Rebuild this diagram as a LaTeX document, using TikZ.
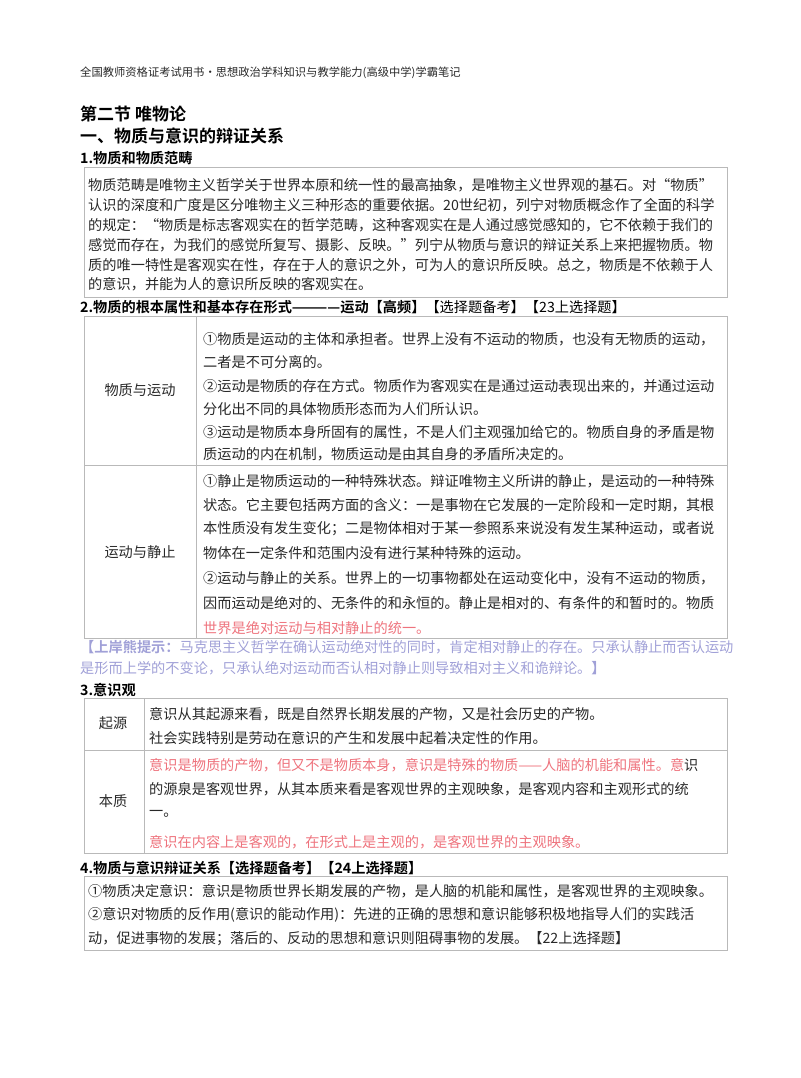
\documentclass[tikz,border=0pt]{standalone}
\usepackage{fontspec}
\setmainfont{Noto Sans CJK SC}
\newfontfamily\hei{Noto Sans CJK SC Bold}
\definecolor{bx}{RGB}{185,185,185}
\definecolor{rd}{RGB}{238,115,125}
\definecolor{tip}{RGB}{160,160,215}
\definecolor{tx}{RGB}{40,40,40}
\begin{document}
\begin{tikzpicture}[x=1pt,y=1pt,
  t/.style={anchor=west,inner sep=0pt,text=tx,font=\fontsize{14.2}{14.2}\selectfont},
  h/.style={anchor=west,inner sep=0pt,text=black,font=\hei\fontsize{14.2}{14.2}\selectfont},
  H/.style={anchor=west,inner sep=0pt,text=black,font=\hei\fontsize{17}{17}\selectfont},
  c/.style={anchor=center,inner sep=0pt,text=tx,font=\fontsize{14.2}{14.2}\selectfont},
  box/.style={draw=bx,line width=0.8pt}]
\useasboundingbox (0,0) rectangle (800,-1078);
\node[anchor=west,inner sep=0pt,text=tx,font=\fontsize{11.3}{11.3}\selectfont] (hd) at (80,-73) {全国教师资格证考试用书·思想政治学科知识与教学能力(高级中学)学霸笔记};
\node[H] (s1) at (80,-114) {第二节\ 唯物论};
\node[H] (s2) at (80,-136) {一、物质与意识的辩证关系};
\node[h] (h1) at (80,-158) {1.物质和物质范畴};
% box 1
\draw[box] (84,-167) rectangle (727,-297);
\node[t] (a1) at (88,-185) {物质范畴是唯物主义哲学关于世界本原和统一性的最高抽象，是唯物主义世界观的基石。对“物质”};
\node[t] (a2) at (88,-205) {认识的深度和广度是区分唯物主义三种形态的重要依据。20世纪初，列宁对物质概念作了全面的科学};
\node[t] (a3) at (88,-225) {的规定：“物质是标志客观实在的哲学范畴，这种客观实在是人通过感觉感知的，它不依赖于我们的};
\node[t] (a4) at (88,-245) {感觉而存在，为我们的感觉所复写、摄影、反映。”列宁从物质与意识的辩证关系上来把握物质。物};
\node[t] (a5) at (88,-265) {质的唯一特性是客观实在性，存在于人的意识之外，可为人的意识所反映。总之，物质是不依赖于人};
\node[t] (a6) at (88,-284) {的意识，并能为人的意识所反映的客观实在。};
% section 2
\node[h] (h2) at (80,-307) {2.物质的根本属性和基本存在形式————运动【高频】{\rmfamily 【选择题备考】【23上选择题】}};
\draw[box] (84,-316) rectangle (727,-638);
\draw[box] (196,-316) -- (196,-638);
\draw[box] (84,-465) -- (727,-465);
\node[c] (r1) at (140,-390) {物质与运动};
\node[c] (r2) at (140,-552) {运动与静止};
\node[t] (b1) at (203,-339) {①物质是运动的主体和承担者。世界上没有不运动的物质，也没有无物质的运动，};
\node[t] (b2) at (203,-362) {二者是不可分离的。};
\node[t] (b3) at (203,-386) {②运动是物质的存在方式。物质作为客观实在是通过运动表现出来的，并通过运动};
\node[t] (b4) at (203,-409) {分化出不同的具体物质形态而为人们所认识。};
\node[t] (b5) at (203,-432) {③运动是物质本身所固有的属性，不是人们主观强加给它的。物质自身的矛盾是物};
\node[t] (b6) at (203,-454) {质运动的内在机制，物质运动是由其自身的矛盾所决定的。};
\node[t] (c1) at (203,-481) {①静止是物质运动的一种特殊状态。辩证唯物主义所讲的静止，是运动的一种特殊};
\node[t] (c2) at (203,-505) {状态。它主要包括两方面的含义：一是事物在它发展的一定阶段和一定时期，其根};
\node[t] (c3) at (203,-529) {本性质没有发生变化；二是物体相对于某一参照系来说没有发生某种运动，或者说};
\node[t] (c4) at (203,-553) {物体在一定条件和范围内没有进行某种特殊的运动。};
\node[t] (c5) at (203,-578) {②运动与静止的关系。世界上的一切事物都处在运动变化中，没有不运动的物质，};
\node[t] (c6) at (203,-603) {因而运动是绝对的、无条件的和永恒的。静止是相对的、有条件的和暂时的。物质};
\node[t,text=rd] (c7) at (203,-628) {世界是绝对运动与相对静止的统一。};
\node[t,text=tip] (p1) at (80,-647) {{\hei【上岸熊提示：}马克思主义哲学在确认运动绝对性的同时，肯定相对静止的存在。只承认静止而否认运动};
\node[t,text=tip] (p2) at (80,-668) {是形而上学的不变论，只承认绝对运动而否认相对静止则导致相对主义和诡辩论。{\hei】}};
% section 3
\node[h] (h3) at (80,-690) {3.意识观};
\draw[box] (84,-698) rectangle (727,-853);
\draw[box] (144,-698) -- (144,-853);
\draw[box] (84,-750) -- (727,-750);
\node[c] (q1) at (113,-723) {起源};
\node[c] (q2) at (113,-801) {本质};
\node[t] (d1) at (149,-714) {意识从其起源来看，既是自然界长期发展的产物，又是社会历史的产物。};
\node[t] (d2) at (149,-738) {社会实践特别是劳动在意识的产生和发展中起着决定性的作用。};
\node[t] (e1) at (149,-765) {\textcolor{rd}{意识是物质的产物，但又不是物质本身，意识是特殊的物质——人脑的机能和属性。意}识};
\node[t] (e2) at (149,-789) {的源泉是客观世界，从其本质来看是客观世界的主观映象，是客观内容和主观形式的统};
\node[t] (e3) at (149,-814) {一。};
\node[t,text=rd] (e4) at (149,-842) {意识在内容上是客观的，在形式上是主观的，是客观世界的主观映象。};
% section 4
\node[h] (h4) at (80,-868) {4.物质与意识辩证关系【选择题备考】【24上选择题】};
\draw[box] (84,-876) rectangle (727,-950);
\node[t] (f1) at (88,-891) {①物质决定意识：意识是物质世界长期发展的产物，是人脑的机能和属性，是客观世界的主观映象。};
\node[t] (f2) at (88,-915) {②意识对物质的反作用(意识的能动作用)：先进的正确的思想和意识能够积极地指导人们的实践活};
\node[t] (f3) at (88,-939) {动，促进事物的发展；落后的、反动的思想和意识则阻碍事物的发展。【22上选择题】};
\end{tikzpicture}
\end{document}
